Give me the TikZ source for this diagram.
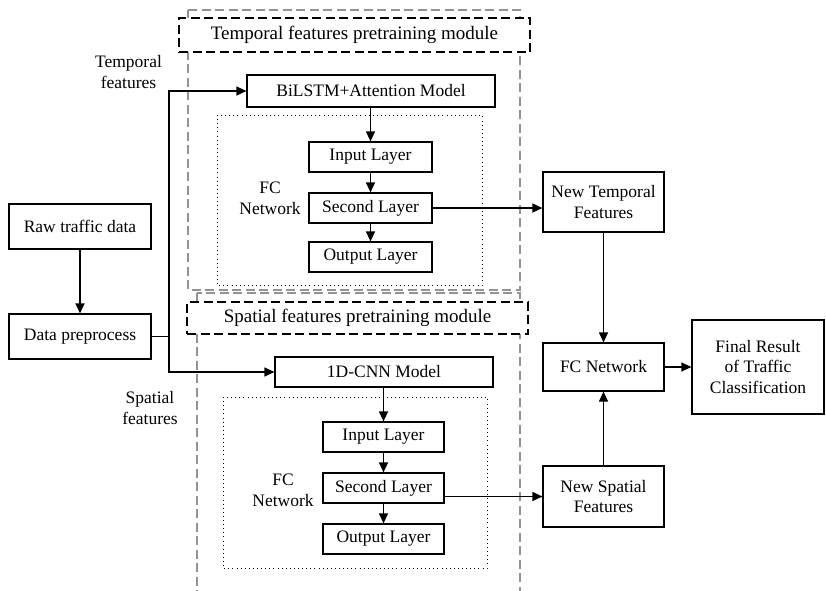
\documentclass[tikz,border=0pt]{standalone}
\usepackage{fontspec}
\setmainfont{Liberation Serif}
\usetikzlibrary{arrows.meta,positioning}
\begin{document}
\begin{tikzpicture}[x=1pt,y=-1pt,
  box/.style={draw,line width=1.2pt,inner sep=0pt,align=center,font=\fontsize{17.5}{20.5}\selectfont,fill=white},
  lbl/.style={inner sep=0pt,align=center,font=\fontsize{17.5}{21}\selectfont},
  hdr/.style={draw,line width=1.5pt,dash pattern=on 9pt off 4.5pt,fill=white,inner sep=0pt,font=\fontsize{19}{22}\selectfont},
  outer/.style={draw=gray!85,line width=1.1pt,dash pattern=on 9pt off 4.5pt},
  dotbox/.style={draw,line width=0.9pt,dash pattern=on 0.9pt off 3.2pt},
  arr/.style={line width=1.2pt,-{Triangle[length=10pt,width=9pt]}},
  ln/.style={line width=1.2pt}]
\useasboundingbox (0,0) rectangle (826,590);
% outer gray dashed module boxes
\draw[outer] (188,10) rectangle (520,290);
\draw[outer] (197,293) rectangle (520,600);
% dotted FC boxes
\draw[dotbox] (217,115) rectangle (482,285);
\draw[dotbox] (223,397) rectangle (487,568);
% headers
\node[hdr,minimum width=351pt,minimum height=34pt] (th) at (354.5,35) {Temporal features pretraining module};
\node[hdr,minimum width=341pt,minimum height=32pt] (sh) at (357.5,318) {Spatial features pretraining module};
% left
\node[box,minimum width=142pt,minimum height=45pt] (raw) at (80,226.5) {Raw traffic data};
\node[box,minimum width=142pt,minimum height=45pt] (pre) at (80,336.5) {Data preprocess};
% temporal
\node[box,minimum width=248pt,minimum height=32pt] (bil) at (371,91) {BiLSTM+Attention Model};
\node[box,minimum width=123pt,minimum height=30pt] (t1) at (370.5,157) {Input Layer};
\node[box,minimum width=123pt,minimum height=30pt] (t2) at (370.5,208) {Second Layer};
\node[box,minimum width=123pt,minimum height=30pt] (t3) at (370.5,257) {Output Layer};
\node[lbl] (tfc) at (270,198) {FC\\Network};
% spatial
\node[box,minimum width=218pt,minimum height=30pt] (cnn) at (384,372) {1D-CNN Model};
\node[box,minimum width=121pt,minimum height=30pt] (s1) at (383.5,437) {Input Layer};
\node[box,minimum width=121pt,minimum height=30pt] (s2) at (383.5,488) {Second Layer};
\node[box,minimum width=121pt,minimum height=30pt] (s3) at (383.5,539) {Output Layer};
\node[lbl] (sfc) at (283,490) {FC\\Network};
% labels
\node[lbl] (tl) at (128.5,72) {Temporal\\features};
\node[lbl] (sl) at (150,408) {Spatial\\features};
% right
\node[box,minimum width=121pt,minimum height=60pt] (nt) at (603.5,202) {New Temporal\\Features};
\node[box,minimum width=121pt,minimum height=48pt] (fc) at (603.5,367) {FC Network};
\node[box,minimum width=121pt,minimum height=61pt] (ns) at (603.5,496.5) {New Spatial\\Features};
\node[box,minimum width=132pt,minimum height=94pt] (fin) at (758,367) {Final Result\\of Traffic\\Classification};
% connectors
\draw[arr] (raw) -- (pre);
\coordinate (br) at (169,336.5);
\draw[ln] (pre.east) -- (br);
\draw[arr] (br) |- (bil.west);
\draw[arr] (br) |- (cnn.west);
\draw[arr] (t1.north |- bil.south) -- (t1.north);
\draw[arr] (t1) -- (t2);
\draw[arr] (t2) -- (t3);
\draw[arr] (s1.north |- cnn.south) -- (s1.north);
\draw[arr] (s1) -- (s2);
\draw[arr] (s2) -- (s3);
\draw[arr] (t2.east) -- (t2.east -| nt.west);
\draw[arr] (ns.west -| s2.east) -- (ns.west);
\draw[arr] (nt) -- (fc);
\draw[arr] (ns) -- (fc);
\draw[arr] (fc) -- (fin);
\end{tikzpicture}
\end{document}
